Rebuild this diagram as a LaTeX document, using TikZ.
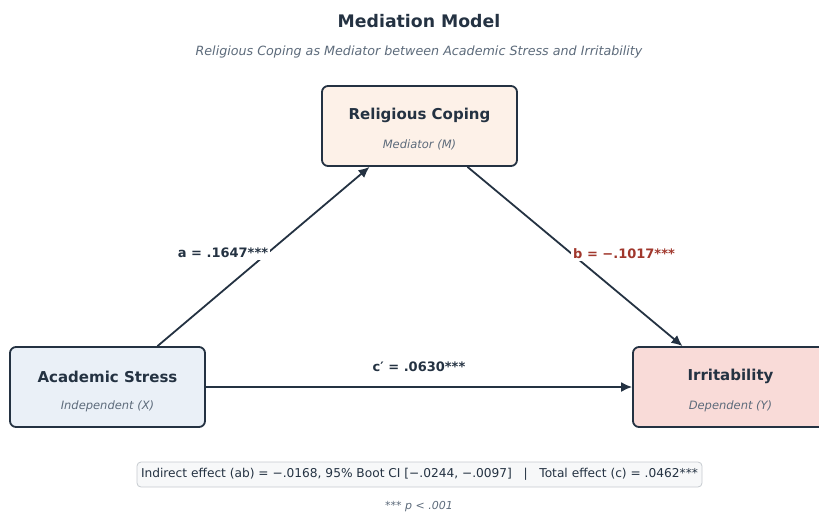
\documentclass[tikz,border=0pt]{standalone}
\usepackage{fontspec}
\setmainfont{DejaVu Sans}
\usetikzlibrary{positioning}
\usetikzlibrary{arrows.meta}
\definecolor{inkdark}{HTML}{243242}
\definecolor{inkgray}{HTML}{5D6B7B}
\definecolor{inkred}{HTML}{A0372C}
\definecolor{fillx}{HTML}{EAF0F7}
\definecolor{fillm}{HTML}{FDF1E8}
\definecolor{filly}{HTML}{F9DBD8}
\definecolor{fillnote}{HTML}{F7F8F9}
\definecolor{drawnote}{HTML}{C5CACF}
\tikzset{
    varbox/.style = {rectangle, rounded corners=6pt, line width=1.8pt, draw=inkdark,
                     minimum width=195pt, minimum height=80pt},
    vartitle/.style = {font=\fontsize{15}{18}\selectfont\bfseries, text=inkdark},
    varsub/.style = {font=\fontsize{11.5}{13}\selectfont\itshape, text=inkgray},
    edgen/.style = {-{Latex[length=11pt,width=10pt]}, line width=1.8pt, draw=inkdark},
    pathlab/.style = {fill=white, inner sep=2pt, font=\fontsize{13}{15}\selectfont\bfseries, text=inkdark},
}

\begin{document}
\begin{tikzpicture}[x=1pt,y=-1pt]
  \useasboundingbox (0,0) rectangle (819,512);

  % title
  \node[font=\fontsize{17.3}{20}\selectfont\bfseries, text=inkdark] (title) at (419,21) {Mediation Model};
  \node[font=\fontsize{12.7}{15}\selectfont\itshape, text=inkgray] (subtitle) at (419,51.5)
    {Religious Coping as Mediator between Academic Stress and Irritability};

  % variables
  \node[varbox, fill=fillm] (med) at (419.5,126) {};
  \node[vartitle] at (419.5,115.5) {Religious Coping};
  \node[varsub] at (419.5,145) {Mediator (M)};

  \node[varbox, fill=fillx] (indep) at (107.5,387) {};
  \node[vartitle] at (107.5,376.5) {Academic Stress};
  \node[varsub] at (107.5,406) {Independent (X)};

  \node[varbox, fill=filly] (dep) at (730.5,387) {};
  \node[vartitle] at (730.5,376.5) {Irritability};
  \node[varsub] at (730.5,406) {Dependent (Y)};

  % paths
  \draw[edgen] ([xshift=50pt]indep.north) -- ([xshift=-50pt]med.south);
  \draw[edgen] ([xshift=48pt]med.south) -- ([xshift=-48pt]dep.north);
  \draw[edgen] (indep.east) -- (dep.west);

  \node[pathlab] (alab) at (223,253) {a = .1647***};
  \node[pathlab, text=inkred] (blab) at (624,254) {b = −.1017***};
  \node[pathlab] (clab) at (419,367) {c′ = .0630***};

  % summary
  \node[rectangle, rounded corners=4pt, draw=drawnote, line width=0.8pt, fill=fillnote,
        minimum width=565pt, minimum height=25pt, text=inkdark,
        font=\fontsize{12.2}{14}\selectfont] (note) at (419.5,474.5)
    {Indirect effect (ab) = −.0168, 95\% Boot CI [−.0244, −.0097] \ \ | \ \ Total effect (c) = .0462***};
  \node[font=\fontsize{11}{13}\selectfont\itshape, text=inkgray] (sig) at (419,507) {*** p < .001};
\end{tikzpicture}
\end{document}
